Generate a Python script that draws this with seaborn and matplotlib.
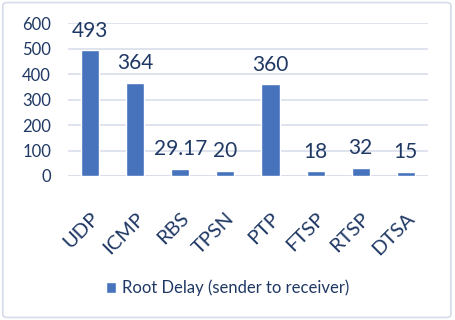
import matplotlib.pyplot as plt
import pandas as pd
import seaborn as sns
from matplotlib.patches import FancyBboxPatch

protocols = ["UDP", "ICMP", "RBS", "TPSN", "PTP", "FTSP", "RTSP", "DTSA"]
root_delay = [493, 364, 29.17, 20, 360, 18, 32, 15]
value_labels = ["493", "364", "29.17", "20", "360", "18", "32", "15"]
series_name = "Root Delay (sender to receiver)"

TEXT = "#1F3864"
BAR = "#4673BC"
GRID = "#D9DEEA"

sns.set_theme(style="white")
plt.rcParams['font.family'] = ['Lato', 'DejaVu Sans']

df = pd.DataFrame({"protocol": protocols, "delay": root_delay})

fig = plt.figure(figsize=(4.55, 3.2), dpi=100)
ax = fig.add_axes([0.149, 0.45, 0.792, 0.478])

# outer frame of the chart area
fig.patches.append(FancyBboxPatch((0.006, 0.008), 0.985, 0.984, boxstyle="round,pad=0,rounding_size=0.01",
                                  transform=fig.transFigure, fill=False, edgecolor="#D5DCE8", linewidth=1.2))

sns.barplot(data=df, x="protocol", y="delay", color=BAR, width=0.4, saturation=1,
            ax=ax, label=series_name)

for i, (v, lab) in enumerate(zip(root_delay, value_labels)):
    ax.annotate(lab, (i, v), xytext=(0, 7), textcoords="offset points",
                ha="center", va="bottom", fontsize=15, color=TEXT)

ax.set_ylim(0, 600)
ax.set_yticks(range(0, 601, 100))
ax.yaxis.grid(True, color=GRID, linewidth=1.2)
ax.set_axisbelow(True)
for s in ax.spines.values():
    s.set_visible(False)
ax.axhline(0, color=GRID, linewidth=1.2, zorder=0)
ax.set_xlabel("")
ax.set_ylabel("")
ax.tick_params(axis="y", labelsize=12, colors=TEXT, length=0, pad=12)
ax.tick_params(axis="x", labelsize=14.5, colors=TEXT, length=0, pad=24)
for t in ax.get_xticklabels():
    t.set_rotation(45)
    t.set_ha("right")
    t.set_rotation_mode("anchor")

if ax.get_legend():
    ax.get_legend().remove()
handles, labels = ax.get_legend_handles_labels()
leg = fig.legend(handles, labels, loc="center", bbox_to_anchor=(0.5, 0.1), frameon=False,
                 fontsize=12, handlelength=0.6, handleheight=0.6, handletextpad=0.4)
for t in leg.get_texts():
    t.set_color(TEXT)

fig.savefig("out.png", dpi=100)
